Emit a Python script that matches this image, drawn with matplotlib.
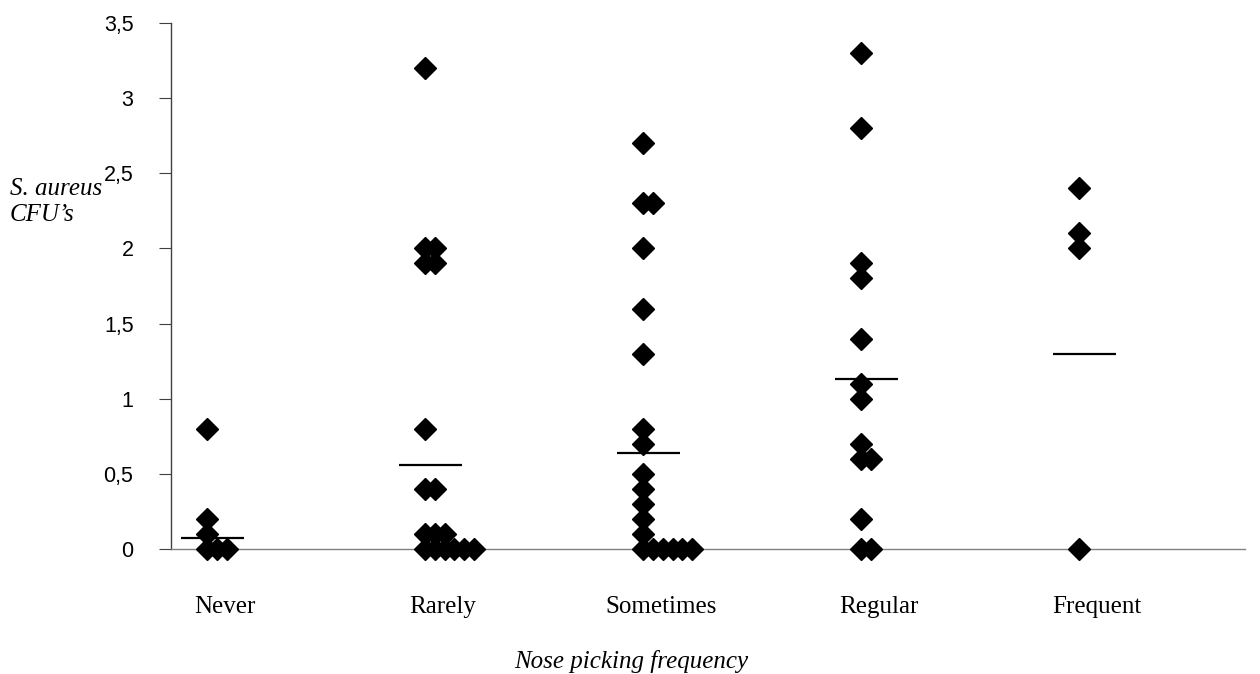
import numpy as np
import matplotlib.pyplot as plt

# values
categories = ['Never', 'Rarely', 'Sometimes', 'Regular', 'Frequent']
never = [0.8, 0.2, 0.1, 0, 0, 0]
rarely = [3.2, 2.0, 2.0, 1.9, 1.9, 0.8, 0.4, 0.4, 0.1, 0.1, 0.1, 0, 0, 0, 0, 0, 0]
sometimes = [2.7, 2.3, 2.3, 2.0, 1.6, 1.3, 0.8, 0.7, 0.5, 0.4, 0.3, 0.2, 0.1,
             0, 0, 0, 0, 0, 0]
regular = [3.3, 2.8, 1.9, 1.8, 1.4, 1.1, 1.0, 0.7, 0.6, 0.6, 0.2, 0, 0]
frequent = [2.4, 2.1, 2.0, 0]
means = [0.07, 0.56, 0.64, 1.13, 1.3]
yticks = [0, 0.5, 1, 1.5, 2, 2.5, 3, 3.5]
ytick_labels = ['0', '0,5', '1', '1,5', '2', '2,5', '3', '3,5']

groups = [never, rarely, sometimes, regular, frequent]

fig = plt.figure(figsize=(12.6, 6.74), dpi=100)
ax = fig.add_axes([171 / 1260, 125 / 674, 1074 / 1260, 526 / 674])

step = 0.045
for i, vals in enumerate(groups):
    x0 = i + 1
    seen = {}
    xs = []
    for v in vals:
        k = seen.get(v, 0)
        xs.append(x0 + k * step)
        seen[v] = k + 1
    ax.plot(xs, vals, linestyle='none', marker='D', ms=11, color='black',
            clip_on=False, zorder=3)
    ax.hlines(means[i], x0 - 0.12, x0 + 0.17, color='black', lw=1.6, zorder=4)

ax.set_xlim(0.835, 5.76)
ax.set_ylim(0, 3.5)

ax.spines['top'].set_visible(False)
ax.spines['right'].set_visible(False)
ax.spines['left'].set_color('#404040')
ax.spines['bottom'].set_color('#808080')
ax.spines['left'].set_linewidth(1)
ax.spines['bottom'].set_linewidth(1)

ax.set_yticks(yticks)
ax.set_yticklabels(ytick_labels, fontfamily='Liberation Sans', fontsize=15.5)
ax.tick_params(axis='y', direction='out', length=9, width=0.8,
               color='#404040', pad=18)

ax.set_xticks(np.arange(1, 6) + 0.08)
ax.set_xticklabels(categories, fontfamily='Liberation Serif', fontsize=18)
ax.tick_params(axis='x', length=0, pad=34)

serif_it = dict(fontfamily='Liberation Serif', fontstyle='italic', fontsize=18)
fig.text(10 / 1260, 1 - 195 / 674, 'S. aureus', ha='left', va='baseline', **serif_it)
fig.text(10 / 1260, 1 - 221 / 674, 'CFU\u2019s', ha='left', va='baseline', **serif_it)
fig.text(631 / 1260, 1 - 668 / 674, 'Nose picking frequency', ha='center',
         va='baseline', **serif_it)

fig.savefig('out.png', dpi=100)
